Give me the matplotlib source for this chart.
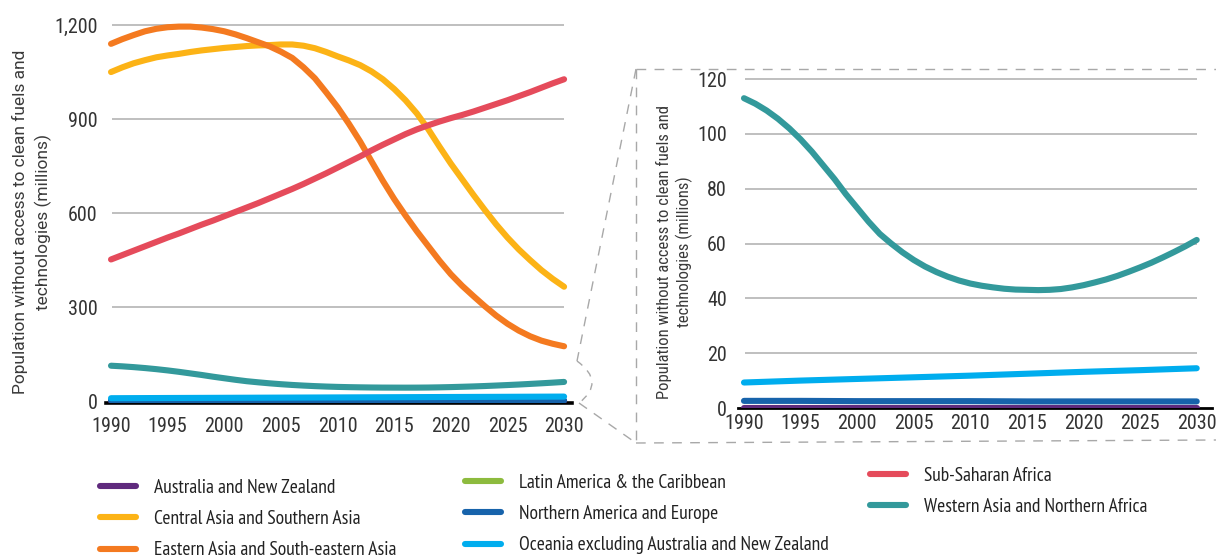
import matplotlib
matplotlib.use('Agg')
import matplotlib.pyplot as plt
from matplotlib.lines import Line2D
from matplotlib.patches import PathPatch
from matplotlib.path import Path

# ---- data (millions of people without access to clean cooking) ----
years = list(range(1990, 2031))
years_5 = [1990, 1995, 2000, 2005, 2010, 2015, 2020, 2025, 2030]

central_southern_asia = [1050, 1065, 1078, 1088, 1097, 1103, 1108, 1114, 1119, 1123,
                         1127, 1130, 1133, 1135, 1136, 1138, 1138, 1134, 1126, 1114,
                         1100, 1087, 1072, 1052, 1027, 996, 960, 918, 868, 812,
                         758, 708, 658, 610, 564, 522, 484, 450, 418, 390, 365]
eastern_se_asia = [1140, 1155, 1168, 1180, 1188, 1193, 1195, 1195, 1192, 1187,
                   1180, 1170, 1158, 1145, 1132, 1115, 1095, 1065, 1030, 985,
                   938, 885, 828, 765, 703, 645, 592, 542, 495, 448,
                   405, 368, 335, 303, 273, 247, 225, 207, 193, 183, 175]
sub_saharan = [452, 466, 480, 494, 508, 522, 535, 549, 563, 576,
               590, 604, 618, 632, 647, 662, 677, 693, 710, 727,
               745, 763, 781, 800, 818, 835, 852, 867, 880, 892,
               903, 913, 924, 936, 948, 960, 973, 986, 1000, 1014, 1027]
west_asia_n_africa = [113, 111, 108.5, 105.5, 102, 98, 93.5, 88.5, 83.5, 78,
                      73, 68, 63.5, 60, 56.8, 54, 51.6, 49.6, 47.9, 46.5,
                      45.4, 44.6, 44, 43.5, 43.2, 43.1, 43, 43.1, 43.4, 44,
                      44.8, 45.8, 46.9, 48.2, 49.7, 51.3, 53, 54.9, 56.9, 59, 61.3]
oceania_ex_aus_nz = [9.3, 10.0, 10.6, 11.2, 11.8, 12.5, 13.2, 13.8, 14.5]
n_america_europe = [2.6, 2.6, 2.5, 2.5, 2.5, 2.4, 2.4, 2.4, 2.4]
australia_nz = [0.1, 0.1, 0.1, 0.1, 0.1, 0.1, 0.1, 0.1, 0.1]

legend_labels = ['Australia and New Zealand', 'Central Asia and Southern Asia',
                 'Eastern Asia and South-eastern Asia', 'Latin America & the Caribbean',
                 'Northern America and Europe', 'Oceania excluding Australia and New Zealand',
                 'Sub-Saharan Africa', 'Western Asia and Northern Africa']
colors = ['#5f2a7d', '#fcb316', '#f47a20', '#8dbb3e',
          '#1763ab', '#00adee', '#e54b5b', '#33999b']

plt.rcParams['font.family'] = ['Roboto Condensed', 'DejaVu Sans']
plt.rcParams['text.color'] = '#333333'

LW = 4.4


def draw_series(ax):
    kw = dict(lw=LW, solid_capstyle='round', solid_joinstyle='round')
    ax.plot(years_5, australia_nz, color=colors[0], **kw)
    ax.plot(years, central_southern_asia, color=colors[1], **kw)
    ax.plot(years, eastern_se_asia, color=colors[2], **kw)
    ax.plot(years_5, n_america_europe, color=colors[4], **kw)
    ax.plot(years_5, oceania_ex_aus_nz, color=colors[5], **kw)
    ax.plot(years, sub_saharan, color=colors[6], **kw)
    ax.plot(years, west_asia_n_africa, color=colors[7], **kw)


def style_axes(ax, yticks, ylabels, axis_lw, xpad, ypad):
    for s in ['top', 'right', 'left']:
        ax.spines[s].set_visible(False)
    ax.spines['bottom'].set_color('black')
    ax.spines['bottom'].set_linewidth(axis_lw)
    ax.spines['bottom'].set_zorder(1)
    ax.set_xticks(years_5)
    ax.set_yticks(yticks)
    ax.set_yticklabels(ylabels)
    ax.tick_params(length=0, labelsize=14.5, colors='#333333')
    ax.tick_params(axis='x', pad=xpad)
    ax.tick_params(axis='y', pad=ypad)
    for t in yticks[1:]:
        ax.hlines(t, 1990.1, 2030, color='#b4b4b4', lw=1.2, zorder=0)


fig = plt.figure(figsize=(12.16, 5.57), dpi=100)

# left: full range
ax1 = fig.add_axes([0.0872, 0.2759, 0.3832, 0.6876])
draw_series(ax1)
ax1.set_xlim(1989.56, 2030.7)
ax1.set_ylim(-7, 1215)
style_axes(ax1, [0, 300, 600, 900, 1200], ['0', '300', '600', '900', '1,200'], 2.6, 10, 6)
fig.text(32 / 1216, 1 - 222 / 557,
         'Population without access to clean fuels and\ntechnologies (millions)',
         rotation=90, ha='center', va='center', multialignment='center',
         fontsize=12.5, linespacing=1.5, family=['Roboto', 'DejaVu Sans'], color='#3a3a3a')

# right: zoom on the small regions
ax2 = fig.add_axes([0.6069, 0.2675, 0.3898, 0.6005])
draw_series(ax2)
ax2.set_xlim(1989.47, 2031.35)
ax2.set_ylim(0, 122)
style_axes(ax2, [0, 20, 40, 60, 80, 100, 120], ['0', '20', '40', '60', '80', '100', '120'], 2.0, 4, 8)
fig.text(674.5 / 1216, 1 - 252 / 557,
         'Population without access to clean fuels and\ntechnologies (millions)',
         rotation=90, ha='center', va='center', multialignment='center',
         fontsize=12, linespacing=1.35, color='#3a3a3a')


# dashed zoom frame and connectors (figure pixels)
def px(x, y):
    return x / 1216, 1 - y / 557


dash = dict(color='#a8a8a8', lw=1.0, linestyle=(0, (7, 6)))
frame = [((636, 69), (1216, 69)), ((636, 69), (636, 443)), ((636, 443), (1216, 440)),
         ((636, 69), (577, 361)), ((579, 403), (636, 443))]
for a, b in frame:
    p0, p1 = px(*a), px(*b)
    fig.add_artist(Line2D([p0[0], p1[0]], [p0[1], p1[1]], transform=fig.transFigure, **dash))
curve = Path([px(577, 361), px(606, 382), px(579, 403)],
             [Path.MOVETO, Path.CURVE3, Path.CURVE3])
fig.add_artist(PathPatch(curve, transform=fig.transFigure, fill=False,
                         edgecolor='#a8a8a8', lw=1.0, linestyle=(0, (5, 5))))

# legend in three columns
handles = [Line2D([], [], color=c, lw=LW, solid_capstyle='round') for c in colors]
cols = [(range(0, 3), 100, 479), (range(3, 6), 465, 474), (range(6, 8), 870, 467)]
for idx, x, y in cols:
    fig.legend([handles[i] for i in idx], [legend_labels[i] for i in idx],
               loc='upper left', bbox_to_anchor=px(x, y), frameon=False,
               prop={'family': 'PT Sans Narrow', 'size': 14},
               handlelength=1.85, handletextpad=0.95,
               labelspacing=0.68, borderpad=0, borderaxespad=0,
               labelcolor='#222222')

fig.savefig('out.png', dpi=100)
